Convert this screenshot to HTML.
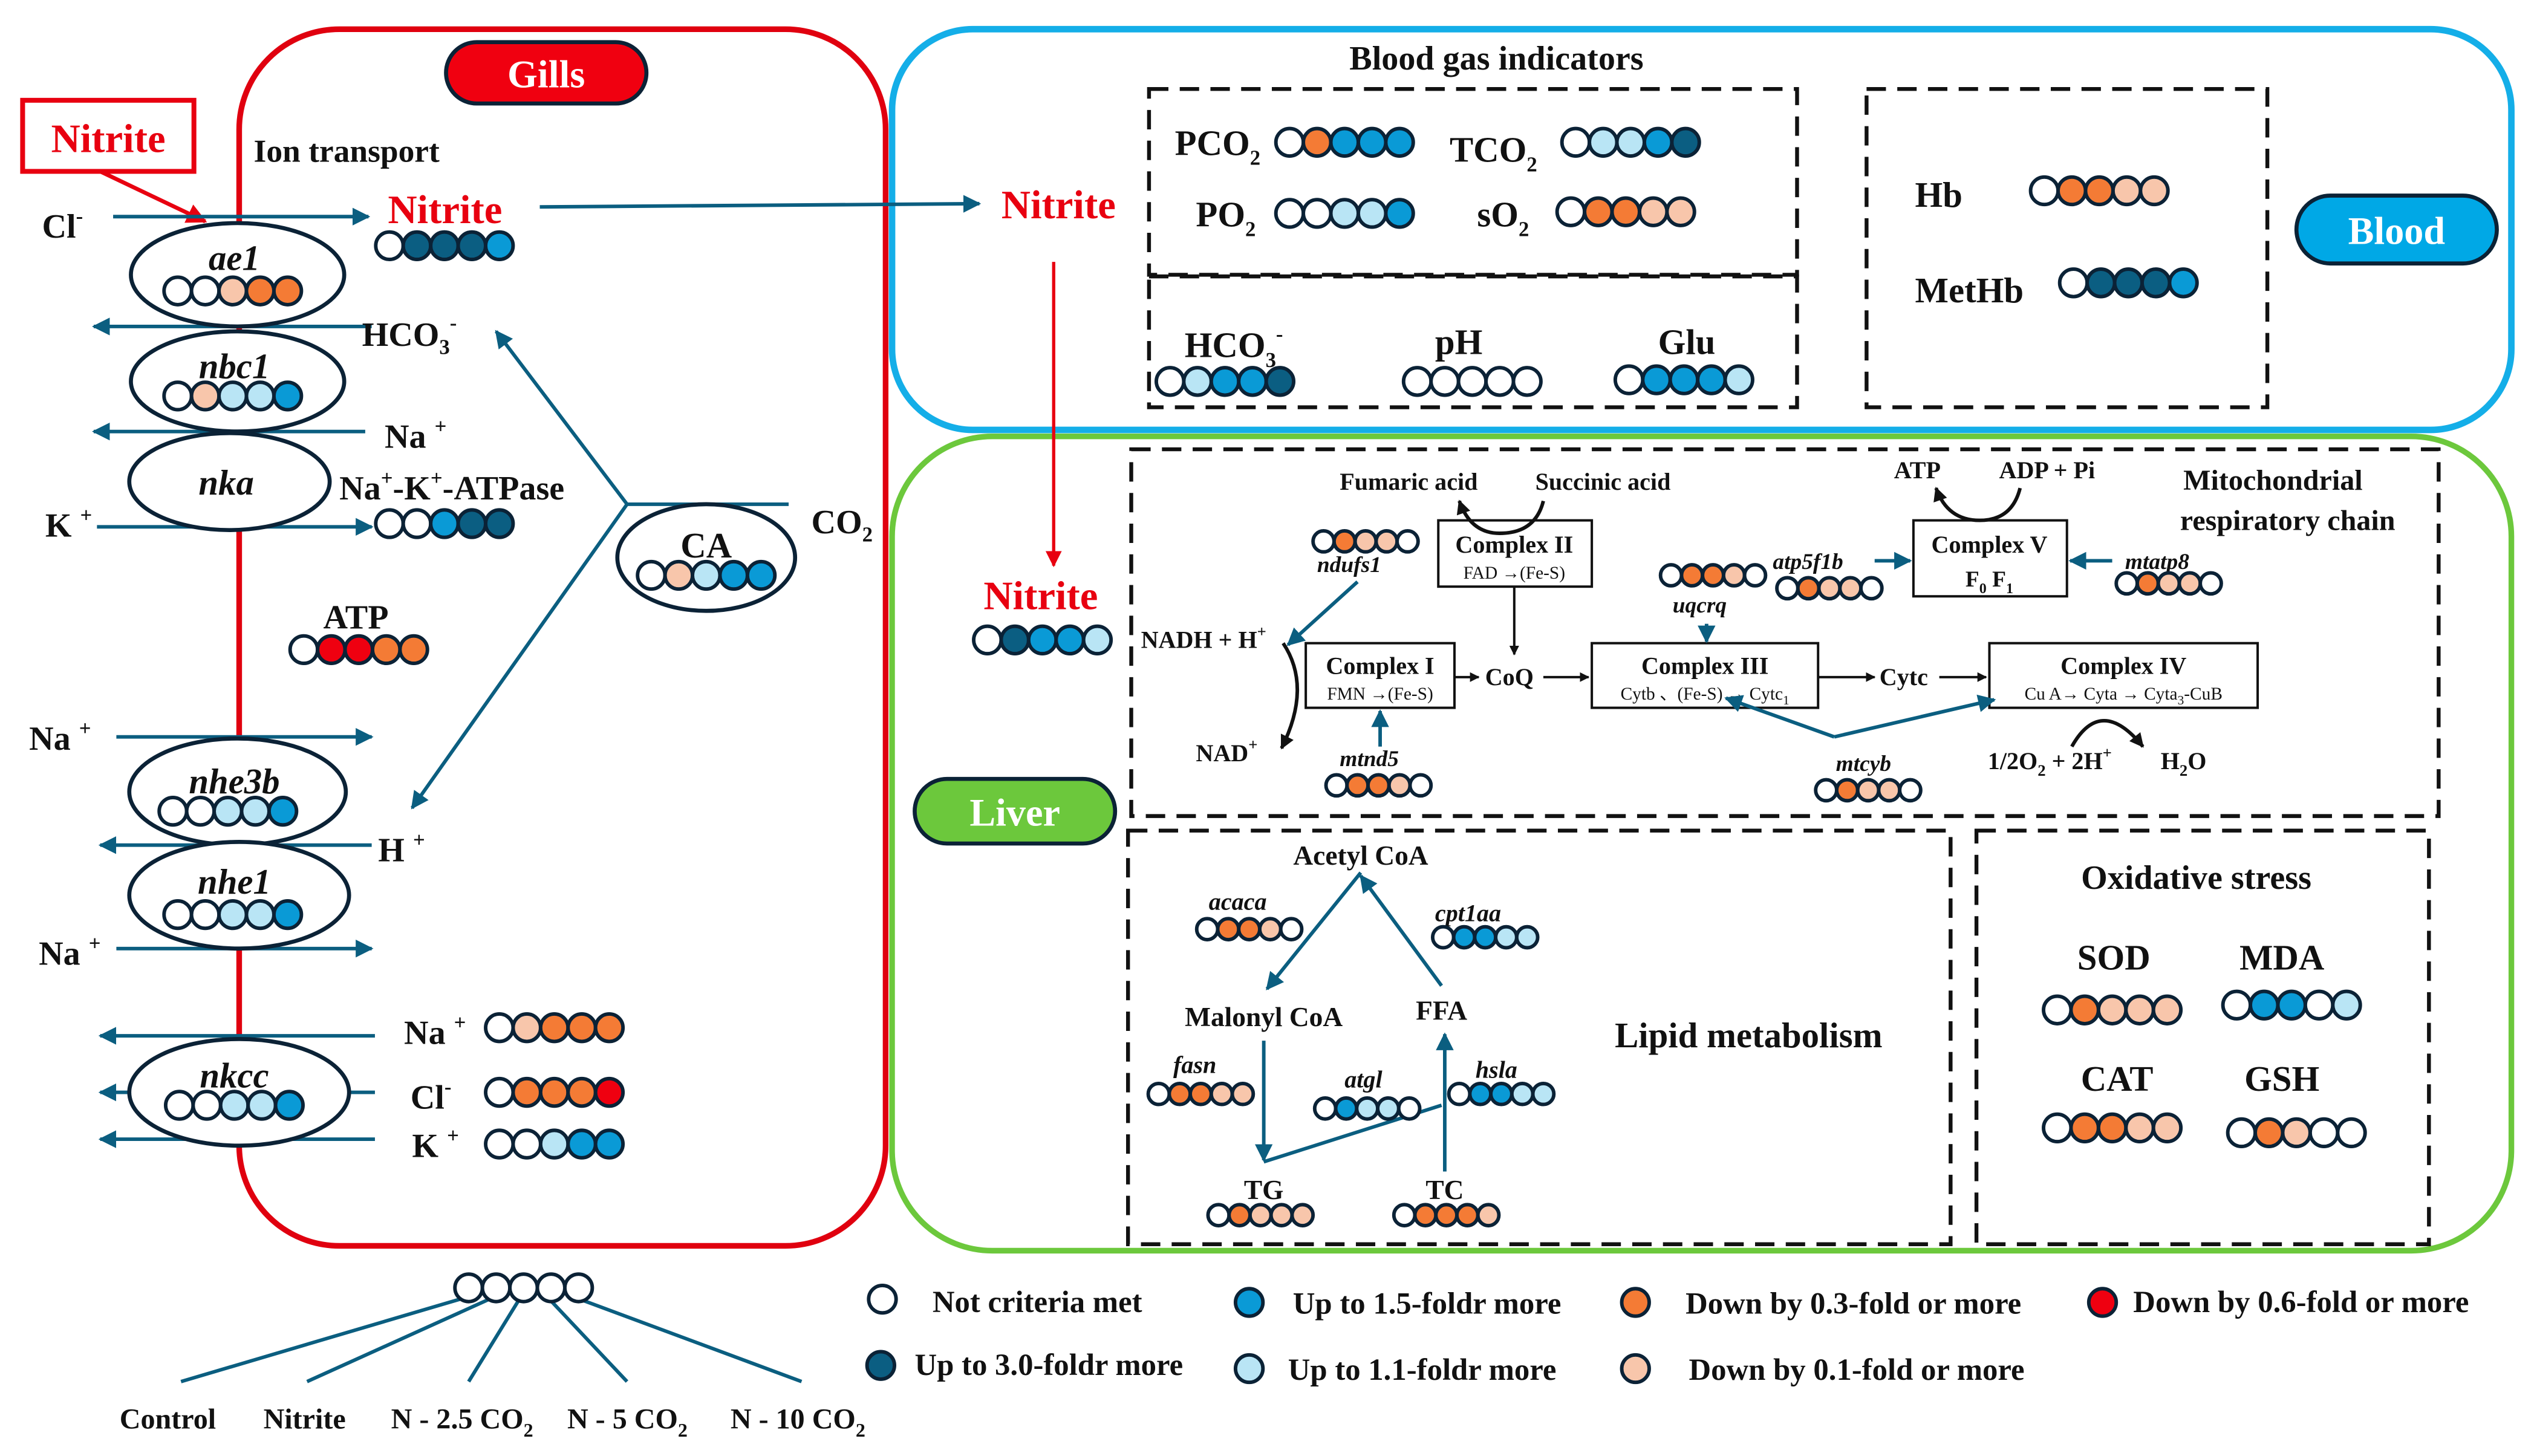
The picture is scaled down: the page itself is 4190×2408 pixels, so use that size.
<!DOCTYPE html>
<html><head><meta charset="utf-8">
<style>
html,body{margin:0;padding:0;background:#fff;}
svg{display:block;}
text{font-family:"Liberation Serif",serif;font-weight:bold;fill:#111;}
.w{fill:#fff}.d{fill:#0b5e82}.b{fill:#0a9ad6}.l{fill:#b9e5f5}.o{fill:#f47b35}.p{fill:#f8c6ab}.r{fill:#ef0010}
g.c circle{stroke:#0b2236;stroke-width:2.2}
.ar{stroke:#0b5e80;stroke-width:2.2;fill:none}
.ds{fill:none;stroke:#111;stroke-width:2.4;stroke-dasharray:12 7}
.bx{fill:#fff;stroke:#111;stroke-width:1.5}
.it{font-style:italic}
.n{font-weight:normal}
</style></head>
<body>
<svg width="4190" height="2408" viewBox="0 0 1568 901" xmlns="http://www.w3.org/2000/svg">
<defs>
<marker id="a" viewBox="0 0 10 10" refX="9" refY="5" markerWidth="5" markerHeight="5" orient="auto"><path d="M0,0L10,5L0,10z" fill="#0b5e80"/></marker>
<marker id="ar" viewBox="0 0 10 10" refX="9" refY="5" markerWidth="5" markerHeight="5" orient="auto"><path d="M0,0L10,5L0,10z" fill="#e80010"/></marker>
<marker id="ak" viewBox="0 0 10 10" refX="9" refY="5" markerWidth="4" markerHeight="4" orient="auto"><path d="M0,0L10,5L0,10z" fill="#111"/></marker>
</defs>

<rect x="148" y="18" width="400" height="753" rx="62" fill="none" stroke="#e0000f" stroke-width="3.5"/>
<rect x="552" y="18" width="1002" height="248" rx="50" fill="none" stroke="#14aee8" stroke-width="4"/>
<rect x="552" y="270" width="1002" height="504" rx="62" fill="none" stroke="#6cc83c" stroke-width="3.5"/>

<rect x="276" y="26" width="124" height="38" rx="19" fill="#f00010" stroke="#0b2236" stroke-width="2.5"/>
<text x="338" y="54" text-anchor="middle" font-size="24" style="fill:#fff">Gills</text>
<rect x="1421" y="121" width="124" height="42" rx="21" fill="#00a8e6" stroke="#0b2236" stroke-width="2.5"/>
<text x="1483" y="151" text-anchor="middle" font-size="24" style="fill:#fff">Blood</text>
<rect x="566" y="482" width="124" height="40" rx="20" fill="#6cc83c" stroke="#0b2236" stroke-width="2.5"/>
<text x="628" y="511" text-anchor="middle" font-size="24" style="fill:#fff">Liver</text>

<rect x="14" y="62" width="106" height="44" fill="#fff" stroke="#e80010" stroke-width="3"/>
<text x="67" y="94" text-anchor="middle" font-size="25" style="fill:#e80010">Nitrite</text>
<line x1="62" y1="106" x2="127" y2="137" stroke="#e80010" stroke-width="2.5" marker-end="url(#ar)"/>
<text x="157" y="100" font-size="20">Ion transport</text>

<line class="ar" x1="70" y1="134" x2="228" y2="134" marker-end="url(#a)"/>
<text x="26" y="147" font-size="21">Cl<tspan font-size="13" dy="-9">-</tspan></text>
<text x="240" y="138" font-size="25" style="fill:#e80010">Nitrite</text>
<line class="ar" x1="334" y1="128" x2="606" y2="126" marker-end="url(#a)"/>
<line class="ar" x1="230" y1="202" x2="58" y2="202" marker-end="url(#a)"/>
<text x="224" y="214" font-size="21">HCO<tspan font-size="13" dy="5">3</tspan><tspan font-size="13" dy="-15">-</tspan></text>
<line class="ar" x1="226" y1="267" x2="58" y2="267" marker-end="url(#a)"/>
<text x="238" y="277" font-size="21">Na <tspan font-size="13" dy="-9">+</tspan></text>
<text x="210" y="309" font-size="21">Na<tspan font-size="13" dy="-9">+</tspan><tspan dy="9">-K</tspan><tspan font-size="13" dy="-9">+</tspan><tspan dy="9">-ATPase</tspan></text>
<line class="ar" x1="60" y1="326" x2="230" y2="326" marker-end="url(#a)"/>
<text x="28" y="332" font-size="21">K <tspan font-size="13" dy="-9">+</tspan></text>
<text x="200" y="389" font-size="21">ATP</text>

<line class="ar" x1="388" y1="312" x2="488" y2="312"/>
<line class="ar" x1="388" y1="312" x2="307" y2="205" marker-end="url(#a)"/>
<line class="ar" x1="388" y1="312" x2="255" y2="500" marker-end="url(#a)"/>
<text x="502" y="330" font-size="21">CO<tspan font-size="13" dy="5">2</tspan></text>

<line class="ar" x1="72" y1="456" x2="230" y2="456" marker-end="url(#a)"/>
<text x="18" y="464" font-size="21">Na <tspan font-size="13" dy="-9">+</tspan></text>
<line class="ar" x1="230" y1="523" x2="62" y2="523" marker-end="url(#a)"/>
<text x="234" y="533" font-size="21">H <tspan font-size="13" dy="-9">+</tspan></text>
<line class="ar" x1="72" y1="587" x2="230" y2="587" marker-end="url(#a)"/>
<text x="24" y="597" font-size="21">Na <tspan font-size="13" dy="-9">+</tspan></text>
<line class="ar" x1="232" y1="641" x2="62" y2="641" marker-end="url(#a)"/>
<line class="ar" x1="232" y1="676" x2="62" y2="676" marker-end="url(#a)"/>
<line class="ar" x1="232" y1="705" x2="62" y2="705" marker-end="url(#a)"/>
<text x="250" y="646" font-size="21">Na <tspan font-size="13" dy="-9">+</tspan></text>
<text x="254" y="686" font-size="21">Cl<tspan font-size="13" dy="-9">-</tspan></text>
<text x="255" y="716" font-size="21">K <tspan font-size="13" dy="-9">+</tspan></text>

<g fill="#fff" stroke="#0b2236" stroke-width="2.5">
<ellipse cx="147" cy="170" rx="66" ry="32"/>
<ellipse cx="147" cy="236" rx="66" ry="31"/>
<ellipse cx="142" cy="298" rx="62" ry="30"/>
<ellipse cx="437" cy="345" rx="55" ry="33"/>
<ellipse cx="147" cy="490" rx="67" ry="33"/>
<ellipse cx="148" cy="554" rx="68" ry="33"/>
<ellipse cx="148" cy="676" rx="68" ry="33"/>
</g>
<text class="it" x="145" y="167" text-anchor="middle" font-size="22">ae1</text>
<text class="it" x="145" y="234" text-anchor="middle" font-size="22">nbc1</text>
<text class="it" x="140" y="306" text-anchor="middle" font-size="22">nka</text>
<text x="437" y="345" text-anchor="middle" font-size="22">CA</text>
<text class="it" x="145" y="491" text-anchor="middle" font-size="22">nhe3b</text>
<text class="it" x="145" y="553" text-anchor="middle" font-size="22">nhe1</text>
<text class="it" x="145" y="673" text-anchor="middle" font-size="22">nkcc</text>

<g class="ar">
<line x1="288" y1="803" x2="112" y2="855"/>
<line x1="305" y1="803" x2="190" y2="855"/>
<line x1="322" y1="803" x2="290" y2="855"/>
<line x1="339" y1="803" x2="388" y2="855"/>
<line x1="356" y1="803" x2="496" y2="855"/>
</g>
<g font-size="18">
<text x="74" y="884">Control</text>
<text x="163" y="884">Nitrite</text>
<text x="242" y="884">N - 2.5 CO<tspan font-size="12" dy="5">2</tspan></text>
<text x="351" y="884">N - 5 CO<tspan font-size="12" dy="5">2</tspan></text>
<text x="452" y="884">N - 10 CO<tspan font-size="12" dy="5">2</tspan></text>
</g>

<text x="926" y="43" text-anchor="middle" font-size="21">Blood gas indicators</text>
<rect class="ds" x="711" y="55" width="401" height="115"/>
<rect class="ds" x="711" y="171" width="401" height="81"/>
<rect class="ds" x="1155" y="55" width="248" height="197"/>
<text x="655" y="135" text-anchor="middle" font-size="25" style="fill:#e80010">Nitrite</text>
<line x1="652" y1="162" x2="652" y2="350" stroke="#e80010" stroke-width="2" marker-end="url(#ar)"/>
<g font-size="22">
<text x="727" y="96">PCO<tspan font-size="13" dy="6">2</tspan></text>
<text x="897" y="100">TCO<tspan font-size="13" dy="6">2</tspan></text>
<text x="740" y="140">PO<tspan font-size="13" dy="6">2</tspan></text>
<text x="914" y="140">sO<tspan font-size="13" dy="6">2</tspan></text>
<text x="733" y="221">HCO<tspan font-size="13" dy="6">3</tspan><tspan font-size="13" dy="-16">-</tspan></text>
<text x="888" y="219">pH</text>
<text x="1026" y="219">Glu</text>
<text x="1185" y="128">Hb</text>
<text x="1185" y="187">MetHb</text>
</g>

<rect class="ds" x="700" y="278" width="809" height="227"/>
<text x="644" y="377" text-anchor="middle" font-size="25" style="fill:#e80010">Nitrite</text>
<text x="1351" y="303" font-size="18">Mitochondrial</text>
<text x="1349" y="328" font-size="18">respiratory chain</text>
<g font-size="15">
<text x="829" y="303">Fumaric acid</text>
<text x="950" y="303">Succinic acid</text>
<text x="1172" y="296">ATP</text>
<text x="1237" y="296">ADP + Pi</text>
<text x="706" y="401">NADH + H<tspan font-size="10" dy="-7">+</tspan></text>
<text x="740" y="471">NAD<tspan font-size="10" dy="-7">+</tspan></text>
<text x="919" y="424">CoQ</text>
<text x="1163" y="424">Cytc</text>
<text x="1230" y="476">1/2O<tspan font-size="10" dy="4">2</tspan><tspan dy="-4"> + 2H</tspan><tspan font-size="10" dy="-7">+</tspan></text>
<text x="1337" y="476">H<tspan font-size="10" dy="4">2</tspan><tspan dy="-4">O</tspan></text>
</g>
<g font-size="14" class="it">
<text x="815" y="354">ndufs1</text>
<text x="1035" y="379">uqcrq</text>
<text x="1097" y="352">atp5f1b</text>
<text x="1315" y="352">mtatp8</text>
<text x="829" y="474">mtnd5</text>
<text x="1136" y="477">mtcyb</text>
</g>
<rect class="bx" x="808" y="398" width="92" height="40"/>
<text x="854" y="417" text-anchor="middle" font-size="15">Complex I</text>
<text x="854" y="433" text-anchor="middle" font-size="11" class="n">FMN →(Fe-S)</text>
<rect class="bx" x="890" y="322" width="95" height="41"/>
<text x="937" y="342" text-anchor="middle" font-size="15">Complex II</text>
<text x="937" y="358" text-anchor="middle" font-size="11" class="n">FAD →(Fe-S)</text>
<rect class="bx" x="985" y="398" width="140" height="40"/>
<text x="1055" y="417" text-anchor="middle" font-size="15">Complex III</text>
<text x="1055" y="433" text-anchor="middle" font-size="11" class="n">Cytb 、(Fe-S) → Cytc<tspan font-size="8" dy="3">1</tspan></text>
<rect class="bx" x="1231" y="398" width="166" height="40"/>
<text x="1314" y="417" text-anchor="middle" font-size="15">Complex IV</text>
<text x="1314" y="433" text-anchor="middle" font-size="11" class="n">Cu A→ Cyta → Cyta<tspan font-size="8" dy="3">3</tspan><tspan dy="-3">-CuB</tspan></text>
<rect class="bx" x="1184" y="322" width="95" height="47"/>
<text x="1231" y="342" text-anchor="middle" font-size="15">Complex V</text>
<text x="1231" y="363" text-anchor="middle" font-size="14">F<tspan font-size="9" dy="4">0</tspan><tspan dy="-4"> F</tspan><tspan font-size="9" dy="4">1</tspan></text>
<g stroke="#111" stroke-width="1.5" fill="none">
<line x1="900" y1="419" x2="915" y2="419" marker-end="url(#ak)"/>
<line x1="955" y1="419" x2="983" y2="419" marker-end="url(#ak)"/>
<line x1="1125" y1="419" x2="1160" y2="419" marker-end="url(#ak)"/>
<line x1="1200" y1="419" x2="1229" y2="419" marker-end="url(#ak)"/>
<line x1="937" y1="363" x2="937" y2="405" marker-end="url(#ak)"/>
<path d="M955,310 Q950,330 928,330 Q910,330 903,310" stroke-width="2.2" marker-end="url(#ak)"/>
<path d="M1250,302 Q1245,322 1225,322 Q1205,322 1198,302" stroke-width="2.2" marker-end="url(#ak)"/>
<path d="M794,398 Q812,425 793,463" stroke-width="2.2" marker-end="url(#ak)"/>
<path d="M1282,462 Q1300,430 1326,462" stroke-width="2.2" marker-end="url(#ak)"/>
</g>
<g class="ar" stroke-width="1.8">
<line x1="840" y1="360" x2="797" y2="399" marker-end="url(#a)"/>
<line x1="854" y1="462" x2="854" y2="440" marker-end="url(#a)"/>
<line x1="1056" y1="386" x2="1056" y2="397" marker-end="url(#a)"/>
<line x1="1160" y1="347" x2="1182" y2="347" marker-end="url(#a)"/>
<line x1="1307" y1="347" x2="1281" y2="347" marker-end="url(#a)"/>
<line x1="1135" y1="456" x2="1068" y2="432" marker-end="url(#a)"/>
<line x1="1135" y1="456" x2="1234" y2="433" marker-end="url(#a)"/>
</g>

<rect class="ds" x="698" y="514" width="509" height="256"/>
<text x="842" y="535" text-anchor="middle" font-size="17">Acetyl CoA</text>
<text x="782" y="635" text-anchor="middle" font-size="17">Malonyl CoA</text>
<text x="892" y="631" text-anchor="middle" font-size="17">FFA</text>
<text x="1082" y="648" text-anchor="middle" font-size="22">Lipid metabolism</text>
<text x="782" y="742" text-anchor="middle" font-size="17">TG</text>
<text x="894" y="742" text-anchor="middle" font-size="17">TC</text>
<g font-size="15" class="it">
<text x="748" y="563">acaca</text>
<text x="888" y="570">cpt1aa</text>
<text x="726" y="664">fasn</text>
<text x="832" y="673">atgl</text>
<text x="913" y="667">hsla</text>
</g>
<g class="ar" stroke-width="1.2">
<line x1="842" y1="540" x2="784" y2="612" marker-end="url(#a)"/>
<line x1="892" y1="610" x2="842" y2="542" marker-end="url(#a)"/>
<line x1="782" y1="644" x2="782" y2="718" marker-end="url(#a)"/>
<line x1="894" y1="725" x2="894" y2="640" marker-end="url(#a)"/>
<line x1="782" y1="719" x2="892" y2="684"/>
</g>

<rect class="ds" x="1223" y="514" width="280" height="256"/>
<text x="1359" y="550" text-anchor="middle" font-size="21">Oxidative stress</text>
<g font-size="22" text-anchor="middle">
<text x="1308" y="600">SOD</text>
<text x="1412" y="600">MDA</text>
<text x="1310" y="675">CAT</text>
<text x="1412" y="675">GSH</text>
</g>

<g font-size="19">
<text x="577" y="812">Not criteria met</text>
<text x="800" y="813">Up to 1.5-foldr more</text>
<text x="1043" y="813">Down by 0.3-fold or more</text>
<text x="1320" y="812">Down by 0.6-fold or more</text>
<text x="566" y="851">Up to 3.0-foldr more</text>
<text x="797" y="854">Up to 1.1-foldr more</text>
<text x="1045" y="854">Down by 0.1-fold or more</text>
</g>
<g class="c">
<circle cx="546" cy="804" r="8.5" class="w"/>
<circle cx="773" cy="806" r="8.5" class="b"/>
<circle cx="1012" cy="806" r="8.5" class="o"/>
<circle cx="1301" cy="806" r="8.5" class="r"/>
<circle cx="545" cy="845" r="8.5" class="d"/>
<circle cx="773" cy="847" r="8.5" class="l"/>
<circle cx="1012" cy="847" r="8.5" class="p"/>
</g>

<g class="c">
<g transform="translate(241,152)"><circle r="8.5" cx="0" class="w"/><circle r="8.5" cx="17" class="d"/><circle r="8.5" cx="34" class="d"/><circle r="8.5" cx="51" class="d"/><circle r="8.5" cx="68" class="b"/></g>
<g transform="translate(110,180)"><circle r="8.5" cx="0" class="w"/><circle r="8.5" cx="17" class="w"/><circle r="8.5" cx="34" class="p"/><circle r="8.5" cx="51" class="o"/><circle r="8.5" cx="68" class="o"/></g>
<g transform="translate(110,245)"><circle r="8.5" cx="0" class="w"/><circle r="8.5" cx="17" class="p"/><circle r="8.5" cx="34" class="l"/><circle r="8.5" cx="51" class="l"/><circle r="8.5" cx="68" class="b"/></g>
<g transform="translate(241,324)"><circle r="8.5" cx="0" class="w"/><circle r="8.5" cx="17" class="w"/><circle r="8.5" cx="34" class="b"/><circle r="8.5" cx="51" class="d"/><circle r="8.5" cx="68" class="d"/></g>
<g transform="translate(403,356)"><circle r="8.5" cx="0" class="w"/><circle r="8.5" cx="17" class="p"/><circle r="8.5" cx="34" class="l"/><circle r="8.5" cx="51" class="b"/><circle r="8.5" cx="68" class="b"/></g>
<g transform="translate(188,402)"><circle r="8.5" cx="0" class="w"/><circle r="8.5" cx="17" class="r"/><circle r="8.5" cx="34" class="r"/><circle r="8.5" cx="51" class="o"/><circle r="8.5" cx="68" class="o"/></g>
<g transform="translate(107,502)"><circle r="8.5" cx="0" class="w"/><circle r="8.5" cx="17" class="w"/><circle r="8.5" cx="34" class="l"/><circle r="8.5" cx="51" class="l"/><circle r="8.5" cx="68" class="b"/></g>
<g transform="translate(110,566)"><circle r="8.5" cx="0" class="w"/><circle r="8.5" cx="17" class="w"/><circle r="8.5" cx="34" class="l"/><circle r="8.5" cx="51" class="l"/><circle r="8.5" cx="68" class="b"/></g>
<g transform="translate(111,684)"><circle r="8.5" cx="0" class="w"/><circle r="8.5" cx="17" class="w"/><circle r="8.5" cx="34" class="l"/><circle r="8.5" cx="51" class="l"/><circle r="8.5" cx="68" class="b"/></g>
<g transform="translate(309,636)"><circle r="8.5" cx="0" class="w"/><circle r="8.5" cx="17" class="p"/><circle r="8.5" cx="34" class="o"/><circle r="8.5" cx="51" class="o"/><circle r="8.5" cx="68" class="o"/></g>
<g transform="translate(309,676)"><circle r="8.5" cx="0" class="w"/><circle r="8.5" cx="17" class="o"/><circle r="8.5" cx="34" class="o"/><circle r="8.5" cx="51" class="o"/><circle r="8.5" cx="68" class="r"/></g>
<g transform="translate(309,708)"><circle r="8.5" cx="0" class="w"/><circle r="8.5" cx="17" class="w"/><circle r="8.5" cx="34" class="l"/><circle r="8.5" cx="51" class="b"/><circle r="8.5" cx="68" class="b"/></g>
<g transform="translate(290,797)"><circle r="8.5" cx="0" class="w"/><circle r="8.5" cx="17" class="w"/><circle r="8.5" cx="34" class="w"/><circle r="8.5" cx="51" class="w"/><circle r="8.5" cx="68" class="w"/></g>
<g transform="translate(798,88)"><circle r="8.5" cx="0" class="w"/><circle r="8.5" cx="17" class="o"/><circle r="8.5" cx="34" class="b"/><circle r="8.5" cx="51" class="b"/><circle r="8.5" cx="68" class="b"/></g>
<g transform="translate(975,88)"><circle r="8.5" cx="0" class="w"/><circle r="8.5" cx="17" class="l"/><circle r="8.5" cx="34" class="l"/><circle r="8.5" cx="51" class="b"/><circle r="8.5" cx="68" class="d"/></g>
<g transform="translate(798,132)"><circle r="8.5" cx="0" class="w"/><circle r="8.5" cx="17" class="w"/><circle r="8.5" cx="34" class="l"/><circle r="8.5" cx="51" class="l"/><circle r="8.5" cx="68" class="b"/></g>
<g transform="translate(972,131)"><circle r="8.5" cx="0" class="w"/><circle r="8.5" cx="17" class="o"/><circle r="8.5" cx="34" class="o"/><circle r="8.5" cx="51" class="p"/><circle r="8.5" cx="68" class="p"/></g>
<g transform="translate(724,236)"><circle r="8.5" cx="0" class="w"/><circle r="8.5" cx="17" class="l"/><circle r="8.5" cx="34" class="b"/><circle r="8.5" cx="51" class="b"/><circle r="8.5" cx="68" class="d"/></g>
<g transform="translate(877,236)"><circle r="8.5" cx="0" class="w"/><circle r="8.5" cx="17" class="w"/><circle r="8.5" cx="34" class="w"/><circle r="8.5" cx="51" class="w"/><circle r="8.5" cx="68" class="w"/></g>
<g transform="translate(1008,235)"><circle r="8.5" cx="0" class="w"/><circle r="8.5" cx="17" class="b"/><circle r="8.5" cx="34" class="b"/><circle r="8.5" cx="51" class="b"/><circle r="8.5" cx="68" class="l"/></g>
<g transform="translate(1265,118)"><circle r="8.5" cx="0" class="w"/><circle r="8.5" cx="17" class="o"/><circle r="8.5" cx="34" class="o"/><circle r="8.5" cx="51" class="p"/><circle r="8.5" cx="68" class="p"/></g>
<g transform="translate(1283,175)"><circle r="8.5" cx="0" class="w"/><circle r="8.5" cx="17" class="d"/><circle r="8.5" cx="34" class="d"/><circle r="8.5" cx="51" class="d"/><circle r="8.5" cx="68" class="b"/></g>
<g transform="translate(611,396)"><circle r="8.5" cx="0" class="w"/><circle r="8.5" cx="17" class="d"/><circle r="8.5" cx="34" class="b"/><circle r="8.5" cx="51" class="b"/><circle r="8.5" cx="68" class="l"/></g>
<g transform="translate(1273,625)"><circle r="8.5" cx="0" class="w"/><circle r="8.5" cx="17" class="o"/><circle r="8.5" cx="34" class="p"/><circle r="8.5" cx="51" class="p"/><circle r="8.5" cx="68" class="p"/></g>
<g transform="translate(1384,622)"><circle r="8.5" cx="0" class="w"/><circle r="8.5" cx="17" class="b"/><circle r="8.5" cx="34" class="b"/><circle r="8.5" cx="51" class="w"/><circle r="8.5" cx="68" class="l"/></g>
<g transform="translate(1273,698)"><circle r="8.5" cx="0" class="w"/><circle r="8.5" cx="17" class="o"/><circle r="8.5" cx="34" class="o"/><circle r="8.5" cx="51" class="p"/><circle r="8.5" cx="68" class="p"/></g>
<g transform="translate(1387,701)"><circle r="8.5" cx="0" class="w"/><circle r="8.5" cx="17" class="o"/><circle r="8.5" cx="34" class="p"/><circle r="8.5" cx="51" class="w"/><circle r="8.5" cx="68" class="w"/></g>
</g>

<g class="c">
<g transform="translate(819,335)"><circle r="6.5" cx="0" class="w"/><circle r="6.5" cx="13" class="o"/><circle r="6.5" cx="26" class="p"/><circle r="6.5" cx="39" class="p"/><circle r="6.5" cx="52" class="w"/></g>
<g transform="translate(1034,356)"><circle r="6.5" cx="0" class="w"/><circle r="6.5" cx="13" class="o"/><circle r="6.5" cx="26" class="o"/><circle r="6.5" cx="39" class="p"/><circle r="6.5" cx="52" class="w"/></g>
<g transform="translate(1106,364)"><circle r="6.5" cx="0" class="w"/><circle r="6.5" cx="13" class="o"/><circle r="6.5" cx="26" class="p"/><circle r="6.5" cx="39" class="p"/><circle r="6.5" cx="52" class="w"/></g>
<g transform="translate(1316,361)"><circle r="6.5" cx="0" class="w"/><circle r="6.5" cx="13" class="o"/><circle r="6.5" cx="26" class="p"/><circle r="6.5" cx="39" class="p"/><circle r="6.5" cx="52" class="w"/></g>
<g transform="translate(827,486)"><circle r="6.5" cx="0" class="w"/><circle r="6.5" cx="13" class="o"/><circle r="6.5" cx="26" class="o"/><circle r="6.5" cx="39" class="p"/><circle r="6.5" cx="52" class="w"/></g>
<g transform="translate(1130,489)"><circle r="6.5" cx="0" class="w"/><circle r="6.5" cx="13" class="o"/><circle r="6.5" cx="26" class="p"/><circle r="6.5" cx="39" class="p"/><circle r="6.5" cx="52" class="w"/></g>
<g transform="translate(747,575)"><circle r="6.5" cx="0" class="w"/><circle r="6.5" cx="13" class="o"/><circle r="6.5" cx="26" class="o"/><circle r="6.5" cx="39" class="p"/><circle r="6.5" cx="52" class="w"/></g>
<g transform="translate(893,580)"><circle r="6.5" cx="0" class="w"/><circle r="6.5" cx="13" class="b"/><circle r="6.5" cx="26" class="b"/><circle r="6.5" cx="39" class="l"/><circle r="6.5" cx="52" class="l"/></g>
<g transform="translate(717,677)"><circle r="6.5" cx="0" class="w"/><circle r="6.5" cx="13" class="o"/><circle r="6.5" cx="26" class="o"/><circle r="6.5" cx="39" class="p"/><circle r="6.5" cx="52" class="p"/></g>
<g transform="translate(820,686)"><circle r="6.5" cx="0" class="w"/><circle r="6.5" cx="13" class="b"/><circle r="6.5" cx="26" class="l"/><circle r="6.5" cx="39" class="l"/><circle r="6.5" cx="52" class="w"/></g>
<g transform="translate(903,677)"><circle r="6.5" cx="0" class="w"/><circle r="6.5" cx="13" class="b"/><circle r="6.5" cx="26" class="b"/><circle r="6.5" cx="39" class="l"/><circle r="6.5" cx="52" class="l"/></g>
<g transform="translate(754,752)"><circle r="6.5" cx="0" class="w"/><circle r="6.5" cx="13" class="o"/><circle r="6.5" cx="26" class="p"/><circle r="6.5" cx="39" class="p"/><circle r="6.5" cx="52" class="p"/></g>
<g transform="translate(869,752)"><circle r="6.5" cx="0" class="w"/><circle r="6.5" cx="13" class="o"/><circle r="6.5" cx="26" class="o"/><circle r="6.5" cx="39" class="o"/><circle r="6.5" cx="52" class="p"/></g>
</g>
</svg>
</body></html>
